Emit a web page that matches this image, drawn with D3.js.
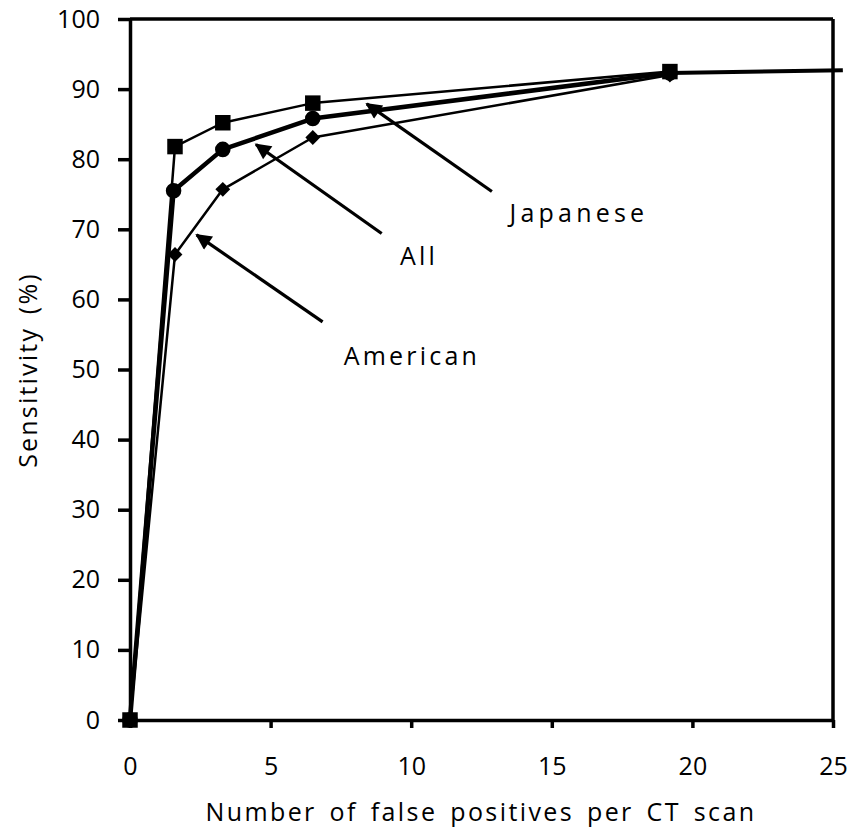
<!DOCTYPE html>
<html>
<head>
<meta charset="utf-8">
<script src="https://cdn.jsdelivr.net/npm/d3@7"></script>
<style>
  body { margin: 0; background: #fff; }
  svg text { font-family: "Open Sans", "Noto Sans", sans-serif; fill: #000; }
</style>
</head>
<body>
<div id="chart"></div>
<script>
// data
const fpJapanese = [0, 1.6, 3.3, 6.5, 19.2];
const sensJapanese = [0, 81.8, 85.2, 88.0, 92.5];
const fpAll = [0, 1.55, 3.3, 6.5, 19.2];
const sensAll = [0, 75.5, 81.4, 85.8, 92.3];
const fpAmerican = [0, 1.6, 3.3, 6.5, 19.2];
const sensAmerican = [0, 66.4, 75.7, 83.1, 92.0];
// the thick line runs on past the frame
const fpTail = [19.2, 25.35];
const sensTail = [92.3, 92.7];

const xTicks = [0, 5, 10, 15, 20, 25];
const yTicks = [0, 10, 20, 30, 40, 50, 60, 70, 80, 90, 100];

// arrow labels: text, label anchor point, arrow tip (in data units)
const labelNames = ["Japanese", "All", "American"];
const labelAt = [[13.5, 71.0], [9.6, 64.9], [7.6, 50.7]];
const arrowTail = [[12.87, 75.4], [8.95, 69.4], [6.85, 56.8]];
const arrowTip = [[8.42, 87.9], [4.48, 82.1], [2.37, 69.2]];

const width = 853, height = 838;
const margin = {top: 19, right: 20, bottom: 118, left: 130};
const innerWidth = 833 - margin.left;
const innerHeight = 720 - margin.top;

const x = d3.scaleLinear().domain([0, 25]).range([0, innerWidth]);
const y = d3.scaleLinear().domain([0, 100]).range([innerHeight, 0]);

const svg = d3.select("#chart").append("svg")
  .attr("width", width)
  .attr("height", height);

const defs = svg.append("defs");
defs.append("marker")
  .attr("id", "head")
  .attr("viewBox", "0 0 10 10")
  .attr("refX", 9).attr("refY", 5)
  .attr("markerWidth", 6.5).attr("markerHeight", 5)
  .attr("markerUnits", "strokeWidth")
  .attr("orient", "auto")
  .append("path")
  .attr("d", "M0,0L10,5L0,10z")
  .attr("fill", "#000");

const g = svg.append("g")
  .attr("transform", "translate(" + margin.left + "," + margin.top + ")");

// axes
const xAxis = d3.axisBottom(x).tickValues(xTicks).tickSize(8).tickSizeOuter(0).tickPadding(29);
const yAxis = d3.axisLeft(y).tickValues(yTicks).tickSize(12).tickSizeOuter(0).tickPadding(18);

const gx = g.append("g")
  .attr("transform", "translate(0," + innerHeight + ")")
  .call(xAxis);
const gy = g.append("g").call(yAxis);

[gx, gy].forEach(a => {
  a.select(".domain").attr("stroke", "#000").attr("stroke-width", 3.5);
  a.selectAll(".tick line").attr("stroke", "#000").attr("stroke-width", 3.5);
  a.selectAll(".tick text").style("font-size", "25px").attr("fill", "#000");
});

// top and right frame lines
g.append("line")
  .attr("x1", x(0)).attr("x2", x(25))
  .attr("y1", y(100)).attr("y2", y(100))
  .attr("stroke", "#000").attr("stroke-width", 3.5);
g.append("line")
  .attr("x1", x(25)).attr("x2", x(25))
  .attr("y1", y(100)).attr("y2", y(0))
  .attr("stroke", "#000").attr("stroke-width", 3.5);

// axis titles
svg.append("text")
  .attr("x", 481)
  .attr("y", 821)
  .attr("text-anchor", "middle")
  .style("font-size", "25px")
  .style("letter-spacing", "2.4px")
  .style("word-spacing", "4px")
  .text("Number of false positives per CT scan");

svg.append("text")
  .attr("transform", "translate(37,370) rotate(-90)")
  .attr("text-anchor", "middle")
  .style("font-size", "25px")
  .style("letter-spacing", "2.2px")
  .style("word-spacing", "4px")
  .text("Sensitivity (%)");

// series
const line = d3.line().x(d => x(d[0])).y(d => y(d[1]));
const toPts = (xs, ys) => xs.map((v, i) => [v, ys[i]]);

const series = [
  {pts: toPts(fpAmerican, sensAmerican), sw: 2.5, shape: d3.symbolSquare, size: 110, rot: 45},
  {pts: toPts(fpJapanese, sensJapanese), sw: 2.5, shape: d3.symbolSquare, size: 240, rot: 0},
  {pts: toPts(fpAll, sensAll), sw: 4.5, shape: d3.symbolCircle, size: 190, rot: 0}
];

g.append("path")
  .attr("d", line(toPts(fpTail, sensTail)))
  .attr("fill", "none").attr("stroke", "#000").attr("stroke-width", 4);

series.forEach(s => {
  g.append("path")
    .attr("d", line(s.pts))
    .attr("fill", "none")
    .attr("stroke", "#000")
    .attr("stroke-width", s.sw)
    .attr("stroke-linejoin", "round");
});
series.forEach(s => {
  g.selectAll(null)
    .data(s.pts)
    .join("path")
    .attr("transform", d => "translate(" + x(d[0]) + "," + y(d[1]) + ") rotate(" + s.rot + ")")
    .attr("d", d3.symbol().type(s.shape).size(s.size))
    .attr("fill", "#000");
});

// arrows and labels
labelNames.forEach((name, i) => {
  g.append("line")
    .attr("x1", x(arrowTail[i][0])).attr("y1", y(arrowTail[i][1]))
    .attr("x2", x(arrowTip[i][0])).attr("y2", y(arrowTip[i][1]))
    .attr("stroke", "#000").attr("stroke-width", 3.2)
    .attr("marker-end", "url(#head)");
  g.append("text")
    .attr("x", x(labelAt[i][0]))
    .attr("y", y(labelAt[i][1]))
    .style("font-size", "25px")
    .style("letter-spacing", i === 0 ? "4.2px" : "3.2px")
    .text(name);
});
</script>
</body>
</html>
